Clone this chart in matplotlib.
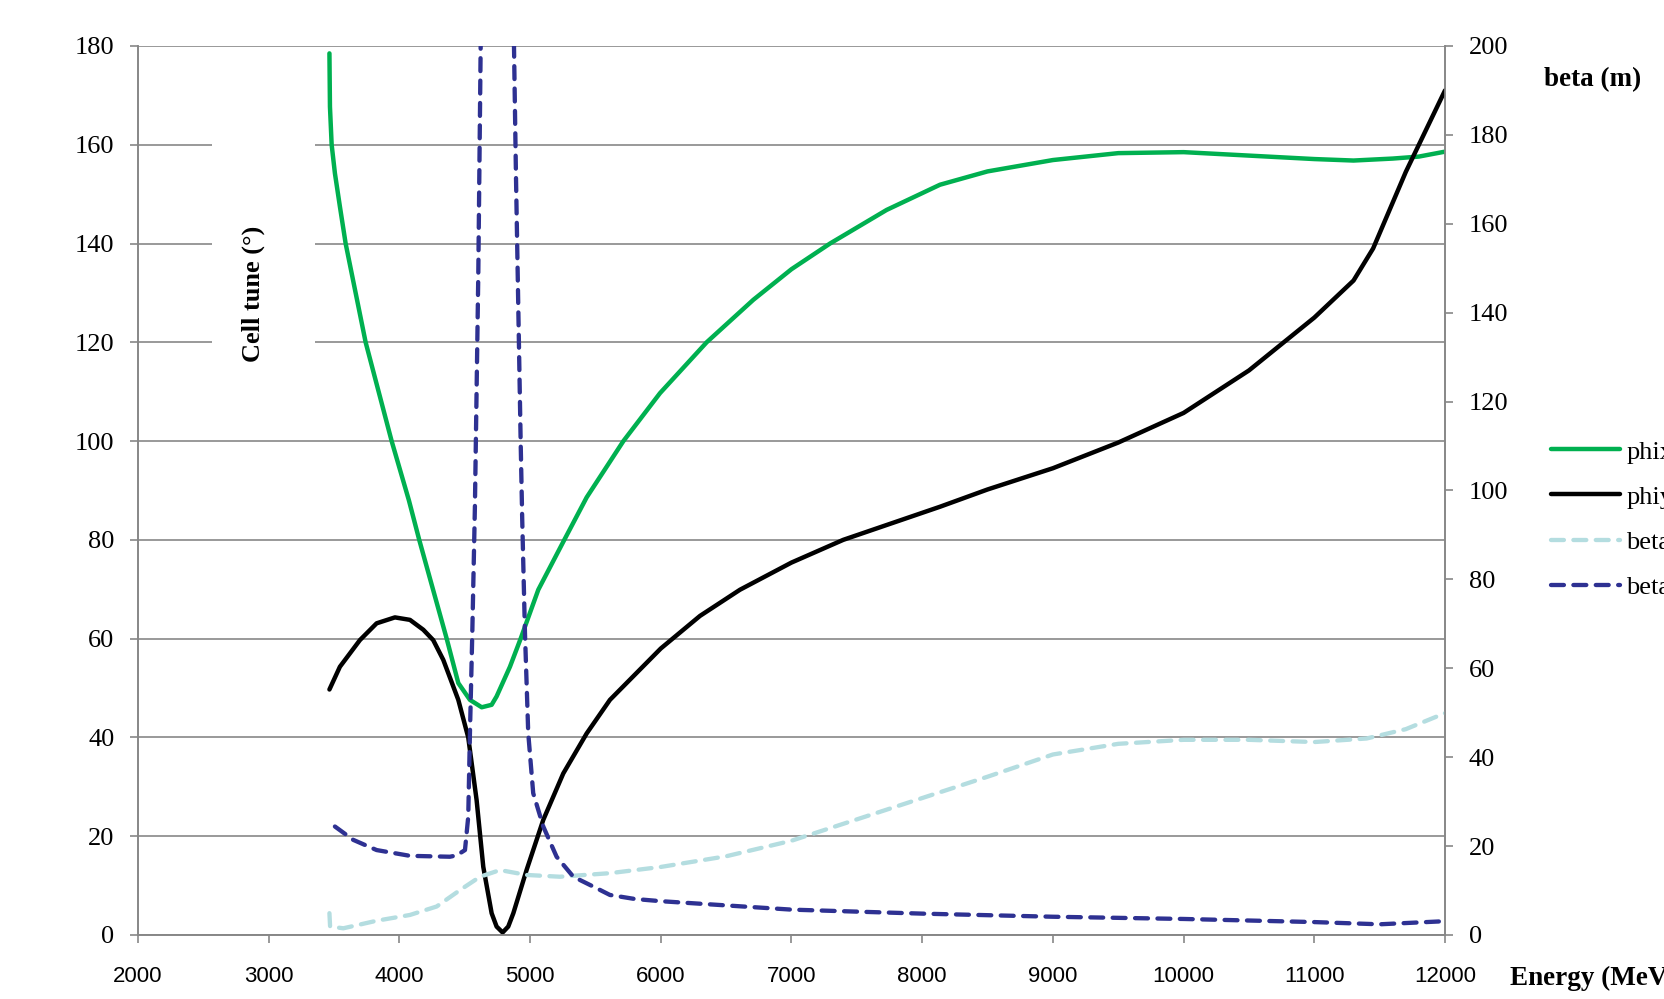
import numpy as np
import matplotlib.pyplot as plt
from matplotlib.patches import Rectangle

# energy (MeV) and cell tune (deg) / beta (m)
phix_e = [3465, 3469, 3482, 3507, 3545, 3589, 3742, 3941, 4073, 4152, 4362, 4451,
          4540, 4630, 4706, 4744, 4846, 4928, 5063, 5254, 5433, 5714, 5994, 6351,
          6708, 7000, 7295, 7728, 8136, 8500, 9000, 9500, 10000, 10500, 11000,
          11300, 11600, 11800, 12000]
phix = [178.5, 167.7, 160, 154.2, 147.5, 140, 120, 100, 88, 80, 60, 51,
        47.6, 46.1, 46.6, 48.3, 54.3, 60, 69.9, 79.6, 88.6, 100, 109.7, 120,
        128.6, 134.8, 140, 146.8, 151.9, 154.6, 156.9, 158.3, 158.5, 157.8, 157.1,
        156.8, 157.2, 157.6, 158.6]

phiy_e = [3465, 3545, 3698, 3826, 3966, 4081, 4183, 4259, 4336, 4451, 4527, 4591,
          4642, 4706, 4744, 4790, 4833, 4872, 4974, 5101, 5254, 5433, 5611, 6000,
          6300, 6606, 7000, 7396, 8136, 8500, 9000, 9500, 10000, 10500, 11000,
          11300, 11450, 11700, 11800, 12000]
phiy = [49.7, 54.3, 59.7, 63.1, 64.3, 63.8, 61.8, 59.7, 55.7, 47.6, 40, 27.3,
        13.8, 4.4, 1.7, 0.5, 1.7, 4.4, 13.2, 23.3, 32.7, 40.8, 47.6, 58,
        64.6, 69.9, 75.4, 80, 86.7, 90.2, 94.5, 99.7, 105.7, 114.3, 125,
        132.5, 139, 154.5, 160, 171]

betax_e = [3465, 3470, 3571, 3826, 4081, 4285, 4464, 4617, 4770, 4974, 5229, 5611,
           6000, 6500, 7000, 7500, 8000, 8500, 9000, 9500, 10000, 10500, 11000,
           11400, 11700, 12000]
betax = [4.9, 1.9, 1.5, 3.2, 4.5, 6.4, 10.1, 13.1, 14.6, 13.5, 13.1, 13.9,
         15.3, 17.7, 21.2, 26, 30.8, 35.6, 40.6, 43, 43.9, 43.9, 43.4,
         44.2, 46.3, 49.9]

betay_e = [3507, 3647, 3826, 4081, 4387, 4438, 4502, 4527, 4540, 4558, 4578, 4604,
           4622, 4640, 4750, 4860, 4877, 4892, 4910, 4928, 4940, 4961, 4986, 5024,
           5101, 5203, 5331, 5510, 5611, 5800, 6000, 7000, 8000, 9000, 10000,
           11000, 11500, 12000]
betay = [24.4, 21.4, 19.1, 17.8, 17.6, 17.9, 19.1, 26.6, 45.4, 67.9, 96.4, 148.9,
         199.8, 240, 600, 240, 200, 171, 141, 111, 93.4, 67.9, 45.4, 31.9,
         24.4, 17.6, 13.1, 10.5, 9.0, 8.1, 7.6, 5.7, 4.8, 4.1, 3.6,
         2.9, 2.4, 3.1]

serif = 'Liberation Serif'
grey = '#878787'

fig = plt.figure(figsize=(16.64, 9.99), dpi=100)
ax = fig.add_axes([0.0829, 0.0641, 0.7855, 0.8899])
ax2 = ax.twinx()

ax.set_xlim(2000, 12000)
ax.set_ylim(0, 180)
ax2.set_ylim(0, 200)
ax.set_xticks(range(2000, 12001, 1000))
ax.set_yticks(range(0, 181, 20))
ax2.set_yticks(range(0, 201, 20))

ax.set_axisbelow(True)
ax.grid(axis='y', color=grey, lw=1.2, zorder=0.5)

for a in (ax, ax2):
    for s in a.spines.values():
        s.set_color(grey)
        s.set_linewidth(1.2)
    a.spines['top'].set_visible(False)

ax.tick_params(axis='x', direction='out', length=6, width=1.2, color=grey, pad=16,
               labelsize=16)
ax.tick_params(axis='y', direction='out', length=6, width=1.2, color=grey, pad=11,
               labelsize=19)
ax2.tick_params(axis='y', direction='out', length=6, width=1.2, color=grey, pad=11,
                labelsize=19)
for lab in ax.get_xticklabels():
    lab.set_fontfamily('Liberation Sans')
for lab in ax.get_yticklabels() + ax2.get_yticklabels():
    lab.set_fontfamily(serif)

# white box behind the left axis title
ax.add_patch(Rectangle((0.0567, 0.58), 0.079, 0.36, transform=ax.transAxes,
                       facecolor='white', edgecolor='none', zorder=1.5))
ax.text(0.088, 0.721, 'Cell tune (°)', transform=ax.transAxes, rotation=90,
        ha='center', va='center', fontsize=19, fontweight='bold', family=serif,
        zorder=2)

l1, = ax.plot(phix_e, phix, color='#00B050', lw=3.2, solid_capstyle='round',
              solid_joinstyle='round', label='phix', zorder=3)
l2, = ax.plot(phiy_e, phiy, color='black', lw=3.2, solid_capstyle='round',
              solid_joinstyle='round', label='phiy', zorder=3)
l3, = ax2.plot(betax_e, betax, color='#B4DDE0', lw=3.1, dashes=(3, 2.2),
               dash_capstyle='round', dash_joinstyle='round', label='betax')
l4, = ax2.plot(betay_e, betay, color='#2E3192', lw=3.1, dashes=(3, 2.2),
               dash_capstyle='round', dash_joinstyle='round', label='betay')

fig.text(1593 / 1664, 1 - 80 / 999, 'beta (m)', ha='center', va='center',
         fontsize=19.5, fontweight='bold', family=serif)
fig.text(1510 / 1664, 1 - 978 / 999, 'Energy (MeV)', ha='left', va='center',
         fontsize=19.5, fontweight='bold', family=serif)

fig.legend(handles=[l1, l2, l3, l4], loc='center left',
           bbox_to_anchor=(1551 / 1664, 1 - 519.5 / 999), frameon=False,
           borderpad=0, borderaxespad=0, handlelength=2.6, handletextpad=0.25,
           labelspacing=0.82, prop={'family': serif, 'size': 19})

fig.savefig('out.png', dpi=100)
